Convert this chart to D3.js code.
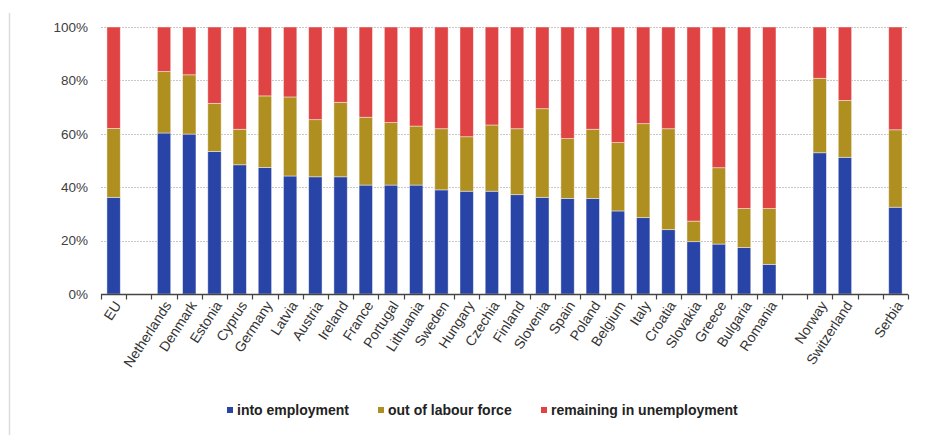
<!DOCTYPE html>
<html lang="en">
<head>
  <meta charset="UTF-8">
  <title>Unemployment transitions</title>
  <script src="https://cdn.jsdelivr.net/npm/d3@7"></script>
  <style>
    body { margin: 0; background: #fff; }
    text { font-family: "Liberation Sans", Arial, sans-serif; }
  </style>
</head>
<body>
  <div id="chart"></div>

  <script>
    // categories, with "_g" keys as empty gap slots between groups
    const countries = ["EU", "_g1", "Netherlands", "Denmark", "Estonia", "Cyprus", "Germany", "Latvia",
      "Austria", "Ireland", "France", "Portugal", "Lithuania", "Sweden", "Hungary", "Czechia",
      "Finland", "Slovenia", "Spain", "Poland", "Belgium", "Italy", "Croatia", "Slovakia",
      "Greece", "Bulgaria", "Romania", "_g2", "Norway", "Switzerland", "_g3", "Serbia"];

    // shares in %, null for gaps
    const intoEmployment = [36.2, null, 60.3, 59.9, 53.4, 48.4, 47.4, 44.2,
      43.9, 43.9, 40.8, 40.8, 40.8, 39.0, 38.5, 38.5,
      37.2, 36.2, 35.8, 35.8, 31.1, 28.6, 24.1, 19.6,
      18.7, 17.4, 11.1, null, 52.9, 51.2, null, 32.5];
    const outOfLabourForce = [25.8, null, 23.0, 22.2, 18.0, 13.3, 26.8, 29.6,
      21.4, 27.9, 25.4, 23.4, 22.1, 22.9, 20.4, 24.8,
      24.7, 33.2, 22.4, 25.9, 25.6, 35.2, 37.8, 7.7,
      28.6, 14.6, 20.9, null, 27.9, 21.3, null, 29.0];
    const remainingUnemployed = intoEmployment.map((d, i) =>
      d == null ? null : +(100 - d - outOfLabourForce[i]).toFixed(1));

    const seriesNames = ["into employment", "out of labour force", "remaining in unemployment"];
    const seriesColors = ["#2744a6", "#b08f21", "#e04344"];
    const yTicks = [0, 20, 40, 60, 80, 100];

    const width = 936, height = 435;
    const margin = {left: 101, right: 28, top: 27, bottom: 141};

    const svg = d3.select("#chart").append("svg")
      .attr("width", width)
      .attr("height", height);

    // light frame line on the left
    svg.append("line")
      .attr("x1", 9.5).attr("x2", 9.5)
      .attr("y1", 13).attr("y2", height)
      .attr("stroke", "#dcdcdc").attr("stroke-width", 1.5);

    const x = d3.scaleBand()
      .domain(countries)
      .range([margin.left, width - margin.right])
      .paddingInner(0.47)
      .paddingOuter(0.235);

    const y = d3.scaleLinear()
      .domain([0, 100])
      .range([height - margin.bottom, margin.top]);

    // gridlines
    svg.append("g")
      .selectAll("line")
      .data(yTicks.filter(d => d > 0))
      .join("line")
        .attr("x1", margin.left)
        .attr("x2", width - margin.right)
        .attr("y1", d => Math.round(y(d)) + 0.5)
        .attr("y2", d => Math.round(y(d)) + 0.5)
        .attr("stroke", "#c8c8c8")
        .attr("stroke-dasharray", "2,1");

    // stacked data
    const rows = countries.map((c, i) => ({
      country: c,
      a: intoEmployment[i] ?? 0,
      b: outOfLabourForce[i] ?? 0,
      c: remainingUnemployed[i] ?? 0
    }));
    const stack = d3.stack().keys(["a", "b", "c"])(rows);

    svg.append("g")
      .selectAll("g")
      .data(stack)
      .join("g")
        .attr("fill", (d, i) => seriesColors[i])
      .selectAll("rect")
      .data(d => d.filter(s => s[1] - s[0] > 0))
      .join("rect")
        .attr("x", d => x(d.data.country))
        .attr("width", x.bandwidth())
        .attr("y", d => y(d[1]))
        .attr("height", d => y(d[0]) - y(d[1]))
        .attr("stroke", "rgba(255,255,255,0.55)")
        .attr("stroke-width", 0.8);

    // y axis labels
    svg.append("g")
      .selectAll("text")
      .data(yTicks)
      .join("text")
        .attr("x", 88)
        .attr("y", d => y(d))
        .attr("dy", "0.35em")
        .attr("text-anchor", "end")
        .attr("fill", "#404040")
        .style("font-size", "13.5px")
        .text(d => d + "%");

    // x axis line + ticks at slot boundaries
    const y0 = Math.round(y(0)) + 0.5;
    const step = x.step();
    const bounds = d3.range(countries.length + 1).map(i => margin.left + i * step);
    const axis = svg.append("g").attr("stroke", "#444");
    axis.append("line")
      .attr("x1", margin.left).attr("x2", width - margin.right)
      .attr("y1", y0).attr("y2", y0)
      .attr("stroke-width", 1.3);
    axis.selectAll("line.tick")
      .data(bounds)
      .join("line")
        .attr("class", "tick")
        .attr("x1", d => Math.round(d) + 0.5).attr("x2", d => Math.round(d) + 0.5)
        .attr("y1", y0).attr("y2", y0 + 5)
        .attr("stroke-width", 1.2);

    // rotated country labels
    svg.append("g")
      .selectAll("text")
      .data(countries.filter(c => !c.startsWith("_")))
      .join("text")
        .attr("transform", d => `translate(${x(d) + x.bandwidth() / 2 + 4},${y0 + 8}) rotate(-57)`)
        .attr("text-anchor", "end")
        .attr("dy", "0.35em")
        .attr("fill", "#333")
        .style("font-size", "14px")
        .text(d => d);

    // legend
    const legendX = [227, 378, 541];
    const legend = svg.append("g")
      .selectAll("g")
      .data(seriesNames)
      .join("g")
        .attr("transform", (d, i) => `translate(${legendX[i]},410)`);
    legend.append("rect")
      .attr("x", 0).attr("y", -3)
      .attr("width", 6).attr("height", 6)
      .attr("fill", (d, i) => seriesColors[i]);
    legend.append("text")
      .attr("x", 10)
      .attr("dy", "0.35em")
      .attr("fill", "#222")
      .style("font-size", "14px")
      .style("font-weight", "bold")
      .text(d => d);
  </script>
</body>
</html>
